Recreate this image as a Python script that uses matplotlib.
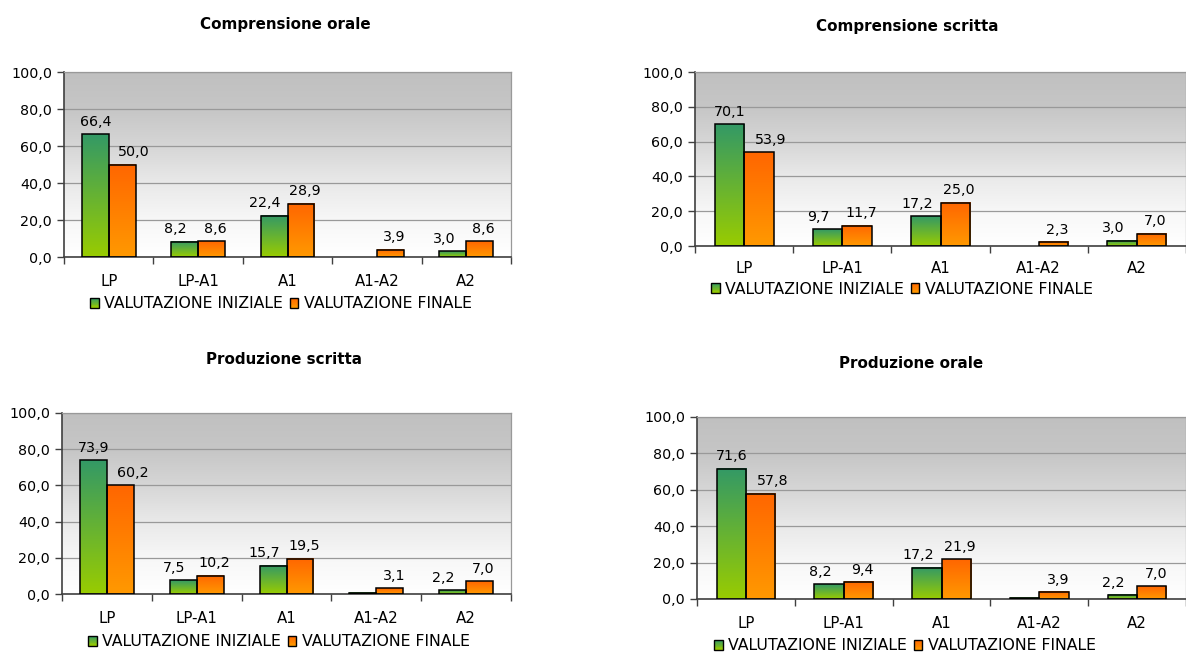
import numpy as np
import matplotlib.pyplot as plt
from matplotlib.colors import LinearSegmentedColormap
from matplotlib.patches import Rectangle
from matplotlib.legend_handler import HandlerBase
from matplotlib.ticker import FuncFormatter, FixedLocator

categories = ['LP', 'LP-A1', 'A1', 'A1-A2', 'A2']
series_names = ['VALUTAZIONE INIZIALE', 'VALUTAZIONE FINALE']

comp_orale_ini = [66.4, 8.2, 22.4, 0.0, 3.0]
comp_orale_fin = [50.0, 8.6, 28.9, 3.9, 8.6]
comp_scritta_ini = [70.1, 9.7, 17.2, 0.0, 3.0]
comp_scritta_fin = [53.9, 11.7, 25.0, 2.3, 7.0]
prod_scritta_ini = [73.9, 7.5, 15.7, 0.8, 2.2]
prod_scritta_fin = [60.2, 10.2, 19.5, 3.1, 7.0]
prod_orale_ini = [71.6, 8.2, 17.2, 0.8, 2.2]
prod_orale_fin = [57.8, 9.4, 21.9, 3.9, 7.0]

plt.rcParams['font.family'] = ['DejaVu Sans']

green_cm = LinearSegmentedColormap.from_list('g', ['#99cc00', '#339966'])
orange_cm = LinearSegmentedColormap.from_list('o', ['#ff9900', '#ff6600'])
back_cm = LinearSegmentedColormap.from_list(
    'bg', [(0, '#ffffff'), (0.2, '#f7f7f7'), (0.4, '#e9e9e9'),
           (0.6, '#d6d6d6'), (0.8, '#c6c6c6'), (1, '#c0c0c0')])
grad = np.linspace(0, 1, 256).reshape(-1, 1)

W, H = 1186, 653
fig = plt.figure(figsize=(W / 100, H / 100), dpi=100)


def px(x0, y0, x1, y1):
    # pixel box -> figure fraction [left, bottom, width, height]
    return [x0 / W, 1 - y1 / H, (x1 - x0) / W, (y1 - y0) / H]


class GradHandler(HandlerBase):
    def create_artists(self, legend, orig_handle, xd, yd, width, height, fontsize, trans):
        cm = orig_handle.cmap
        n = 12
        arts = []
        for k in range(n):
            r = Rectangle((-xd, -yd + height * k / n), width, height / n + 0.2,
                          facecolor=cm(k / (n - 1)), edgecolor='none', transform=trans)
            arts.append(r)
        arts.append(Rectangle((-xd, -yd), width, height, facecolor='none',
                              edgecolor='black', lw=1.0, transform=trans))
        return arts


class GradPatch(Rectangle):
    def __init__(self, cmap, **kw):
        super().__init__((0, 0), 1, 1, **kw)
        self.cmap = cmap


def gbar(ax, x0, w, h, cm):
    if h <= 0:
        return
    ax.imshow(grad, extent=[x0, x0 + w, 0, h], origin='lower', cmap=cm,
              aspect='auto', zorder=2, interpolation='bilinear')
    ax.add_patch(Rectangle((x0, 0), w, h, facecolor='none', edgecolor='black',
                           lw=1.1, zorder=3))


def panel(box, title, title_xy, ini, fin, cat_pad, leg_xy):
    ax = fig.add_axes(px(*box))
    ax.imshow(grad, extent=[-0.5, 4.5, 0, 100], origin='lower', cmap=back_cm,
              aspect='auto', zorder=0)
    w = 0.3
    fmt = lambda v: f'{v:.1f}'.replace('.', ',')
    for i in range(len(categories)):
        vg, vo = ini[i], fin[i]
        gbar(ax, i - w, w, vg, green_cm)
        gbar(ax, i, w, vo, orange_cm)
        if vo < vg - 5:
            dg, do = 0, 12
        else:
            dg, do = -9, 4
        if vg >= 1.5:
            ax.annotate(fmt(vg), (i - w / 2, vg), xytext=(dg * 0.72, 6),
                        textcoords='offset points', ha='center', va='baseline',
                        fontsize=10.3, zorder=4)
        if vo >= 1.5:
            ax.annotate(fmt(vo), (i + w / 2, vo), xytext=(do * 0.72, 6),
                        textcoords='offset points', ha='center', va='baseline',
                        fontsize=10.3, zorder=4)
    ax.set_xlim(-0.5, 4.5)
    ax.set_ylim(0, 100)
    ax.set_yticks(np.arange(0, 101, 20))
    ax.yaxis.set_major_formatter(FuncFormatter(lambda v, p: fmt(v)))
    ax.yaxis.grid(True, color='#999999', lw=0.9)
    ax.set_axisbelow(True)
    ax.xaxis.set_major_locator(FixedLocator(np.arange(-0.5, 5, 1)))
    ax.xaxis.set_minor_locator(FixedLocator(np.arange(5)))
    ax.set_xticklabels([])
    ax.set_xticklabels(categories, minor=True)
    ax.tick_params(axis='x', which='major', length=5, width=1, color='#404040')
    ax.tick_params(axis='x', which='minor', length=0, pad=cat_pad, labelsize=10.8)
    ax.tick_params(axis='y', length=5, width=1, color='#404040', pad=3.5, labelsize=10.3)
    for s in ('left', 'bottom'):
        ax.spines[s].set_color('#404040')
        ax.spines[s].set_linewidth(1.2)
    for s in ('top', 'right'):
        ax.spines[s].set_color('#999999')
        ax.spines[s].set_linewidth(0.9)
    fig.text(title_xy[0] / W, 1 - title_xy[1] / H, title, ha='center', va='center',
             fontsize=10.9, fontweight='bold')
    handles = [GradPatch(green_cm), GradPatch(orange_cm)]
    fig.legend(handles, series_names, loc='center',
               bbox_to_anchor=(leg_xy[0] / W, 1 - leg_xy[1] / H), ncol=2,
               frameon=False, fontsize=11.3, handlelength=0.55, handleheight=0.6,
               handletextpad=0.35, columnspacing=0.4, borderpad=0,
               handler_map={GradPatch: GradHandler()})
    return ax


panel((64, 72, 511, 257), 'Comprensione orale', (285, 24),
      comp_orale_ini, comp_orale_fin, 12, (281, 304))
panel((695, 72, 1186, 246), 'Comprensione scritta', (907, 26),
      comp_scritta_ini, comp_scritta_fin, 11, (902, 289))
panel((62, 413, 511, 594), 'Produzione scritta', (284, 359),
      prod_scritta_ini, prod_scritta_fin, 12, (279, 642))
panel((697, 417, 1186, 599), 'Produzione orale', (911, 364),
      prod_orale_ini, prod_orale_fin, 12.5, (905, 646))

fig.savefig('out.png', dpi=100)
